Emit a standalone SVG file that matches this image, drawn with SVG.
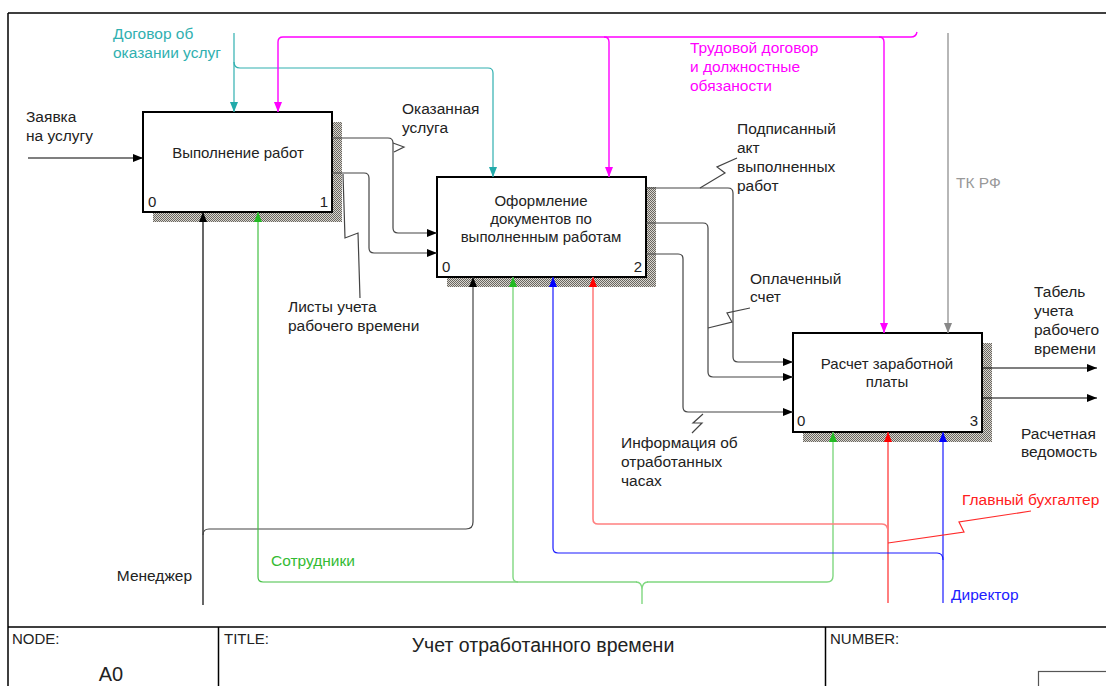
<svg xmlns="http://www.w3.org/2000/svg" width="1106" height="686" viewBox="0 0 1106 686">
<defs>
<pattern id="hatch" width="2" height="2" patternUnits="userSpaceOnUse">
<rect width="2" height="2" fill="#d8d6d0"/>
<rect width="1" height="1" fill="#6a6660"/>
<rect x="1" y="1" width="1" height="1" fill="#6a6660"/>
</pattern>
<marker id="aK" markerUnits="userSpaceOnUse" markerWidth="10" markerHeight="8" refX="10" refY="4" orient="auto"><path d="M0,0 L10,4 L0,8 z" fill="#000"/></marker>
<marker id="aT" markerUnits="userSpaceOnUse" markerWidth="10" markerHeight="8" refX="10" refY="4" orient="auto"><path d="M0,0 L10,4 L0,8 z" fill="#22aaaa"/></marker>
<marker id="aM" markerUnits="userSpaceOnUse" markerWidth="10" markerHeight="8" refX="10" refY="4" orient="auto"><path d="M0,0 L10,4 L0,8 z" fill="#ff00ff"/></marker>
<marker id="aG" markerUnits="userSpaceOnUse" markerWidth="10" markerHeight="8" refX="10" refY="4" orient="auto"><path d="M0,0 L10,4 L0,8 z" fill="#888"/></marker>
<marker id="aGr" markerUnits="userSpaceOnUse" markerWidth="10" markerHeight="8" refX="10" refY="4" orient="auto"><path d="M0,0 L10,4 L0,8 z" fill="#22bb22"/></marker>
<marker id="aR" markerUnits="userSpaceOnUse" markerWidth="10" markerHeight="8" refX="10" refY="4" orient="auto"><path d="M0,0 L10,4 L0,8 z" fill="#ff0000"/></marker>
<marker id="aB" markerUnits="userSpaceOnUse" markerWidth="10" markerHeight="8" refX="10" refY="4" orient="auto"><path d="M0,0 L10,4 L0,8 z" fill="#0000ff"/></marker>
</defs>
<style>
text{font-family:"Liberation Sans",Arial,sans-serif;font-size:15.5px;fill:#222}
.bt{font-size:15px}
.box{fill:#fff;stroke:#000;stroke-width:2}
.sh{fill:url(#hatch)}
.c{fill:none;stroke:#444;stroke-width:1.2}
.k{fill:none;stroke:#000;stroke-width:1.2}
.t{fill:none;stroke:#30b0b0;stroke-width:1.2}
.m{fill:none;stroke:#ff00ff;stroke-width:1.4}
.g{fill:none;stroke:#999;stroke-width:1.4}
.gr{fill:none;stroke:#44c044;stroke-width:1.2}
.grl{fill:none;stroke:#80d880;stroke-width:1.4}
.r{fill:none;stroke:#ff2a2a;stroke-width:1.2}
.rl{fill:none;stroke:#ff8080;stroke-width:1.6}
.b{fill:none;stroke:#1a1aff;stroke-width:1.2}
.ctr{text-anchor:middle}
.end{text-anchor:end}
.frame{fill:none;stroke:#000;stroke-width:1.5}
</style>

<g id="frame">
<path class="frame" d="M8,13 H1106 M8,13 V686 M8,627 H1106 M218.5,627 V686 M825.5,627 V686"/>
<rect x="1038.5" y="671.5" width="80" height="30" fill="none" stroke="#555" stroke-width="1.2"/>
<text x="12" y="644" class="bt">NODE:</text>
<text x="224" y="644" class="bt">TITLE:</text>
<text x="830" y="644" class="bt">NUMBER:</text>
<text x="111" y="681" class="ctr" style="font-size:20px">A0</text>
<text x="543" y="652" class="ctr" style="font-size:19.5px">Учет отработанного времени</text>
</g>

<g id="node1">
<rect class="sh" x="153" y="122" width="189" height="100"/>
<rect class="box" x="143" y="112" width="189" height="100"/>
<text x="238" y="158" class="ctr bt">Выполнение работ</text>
<text x="148" y="207" class="bt">0</text>
<text x="328" y="207" class="end bt">1</text>
</g>

<g id="node2">
<rect class="sh" x="447" y="187" width="209" height="100"/>
<rect class="box" x="437" y="177" width="209" height="100"/>
<text x="541" y="206" class="ctr bt">Оформление</text>
<text x="541" y="224" class="ctr bt">документов по</text>
<text x="541" y="242" class="ctr bt">выполненным работам</text>
<text x="442" y="272" class="bt">0</text>
<text x="642" y="272" class="end bt">2</text>
</g>

<g id="node3">
<rect class="sh" x="803" y="343" width="189" height="99"/>
<rect class="box" x="793" y="333" width="189" height="99"/>
<text x="887" y="369" class="ctr bt">Расчет заработной</text>
<text x="887" y="387" class="ctr bt">платы</text>
<text x="797" y="426" class="bt">0</text>
<text x="978" y="426" class="end bt">3</text>
</g>

<g id="connectors">
<path class="k" d="M28,158 H143" marker-end="url(#aK)"/>
<path class="t" d="M234,33 V112" marker-end="url(#aT)"/>
<path class="t" d="M234,62 q0,6 6,6 H488 q5,0 5,5 V177" marker-end="url(#aT)"/>
<path class="m" d="M917,32 q-1,5 -6,5 H283 q-5,0 -5,5 V112" marker-end="url(#aM)"/>
<path class="m" d="M604,37 q5,0 5,5 V177" marker-end="url(#aM)"/>
<path class="m" d="M879,37 q5,0 5,5 V333" marker-end="url(#aM)"/>
<path class="g" d="M948,33 V333" marker-end="url(#aG)"/>
<path class="c" d="M332,138 H388 q5,0 5,5 V228 q0,5 5,5 H437" marker-end="url(#aK)"/>
<path class="c" d="M332,173 H364 q5,0 5,5 V248 q0,5 5,5 H437" marker-end="url(#aK)"/>
<path class="c" d="M646,188 H728 q5,0 5,5 V357 q0,5 5,5 H793" marker-end="url(#aK)"/>
<path class="c" d="M646,223 H703 q5,0 5,5 V372 q0,5 5,5 H793" marker-end="url(#aK)"/>
<path class="c" d="M646,254 H678 q5,0 5,5 V407 q0,5 5,5 H793" marker-end="url(#aK)"/>
<path class="k" d="M982,368 H1097" marker-end="url(#aK)"/>
<path class="k" d="M982,398 H1097" marker-end="url(#aK)"/>
<path class="k" d="M203,605 V212" marker-end="url(#aK)"/>
<path class="c" d="M203,535 q0,-6 6,-6 H466 q7,0 7,-7 V277" marker-end="url(#aK)"/>
<path class="gr" d="M637,582 H263 q-5,0 -5,-5 V212" marker-end="url(#aGr)"/>
<path class="grl" d="M647,582 H827 q6,0 6,-6 V432" marker-end="url(#aGr)"/>
<path class="grl" d="M518,582 q-5,0 -5,-5 V277" marker-end="url(#aGr)"/>
<path class="grl" d="M642,604 V590 q0,-8 -6,-8 M642,590 q0,-8 6,-8"/>
<path class="r" d="M888,603 V432" marker-end="url(#aR)"/>
<path class="rl" d="M888,532 q0,-8 -6,-8 H598 q-5,0 -5,-5 V277" marker-end="url(#aR)"/>
<path class="b" d="M943,603 V432" marker-end="url(#aB)"/>
<path class="b" d="M943,560 q0,-7 -6,-7 H558 q-5,0 -5,-5 V277" marker-end="url(#aB)"/>
<path class="c" d="M393,143 L404,147 L394,152"/>
<path class="c" d="M343,174 L345,238 L358,233 L360,298"/>
<path class="c" d="M700,188 L725,173 L717,167 L737,158"/>
<path class="c" d="M708,328 L732,322 L727,313 L750,308"/>
<path class="c" d="M703,414 L693,423 L702,423 L692,433"/>
<path class="r" d="M888,543 L964,532 L959,522 L1031,511"/>
</g>

<g id="labels">
<text x="26" y="122">Заявка</text>
<text x="26" y="141">на услугу</text>
<text x="113" y="39" style="fill:#30b0b0">Договор об</text>
<text x="113" y="58" style="fill:#30b0b0">оказании услуг</text>
<text x="690" y="53" style="fill:#ff00ff">Трудовой договор</text>
<text x="690" y="72" style="fill:#ff00ff">и должностные</text>
<text x="690" y="91" style="fill:#ff00ff">обязаности</text>
<text x="402" y="114">Оказанная</text>
<text x="402" y="133">услуга</text>
<text x="737" y="134">Подписанный</text>
<text x="737" y="153">акт</text>
<text x="737" y="172">выполненных</text>
<text x="737" y="191">работ</text>
<text x="956" y="188" style="fill:#999">ТК РФ</text>
<text x="288" y="312">Листы учета</text>
<text x="288" y="331">рабочего времени</text>
<text x="750" y="284">Оплаченный</text>
<text x="750" y="302">счет</text>
<text x="1034" y="297">Табель</text>
<text x="1034" y="316">учета</text>
<text x="1034" y="335">рабочего</text>
<text x="1034" y="354">времени</text>
<text x="621" y="448">Информация об</text>
<text x="621" y="467">отработанных</text>
<text x="621" y="486">часах</text>
<text x="1021" y="439">Расчетная</text>
<text x="1021" y="457">ведомость</text>
<text x="962" y="505" style="fill:#ff2020">Главный бухгалтер</text>
<text x="192" y="581" class="end">Менеджер</text>
<text x="271" y="566" style="fill:#33bb33">Сотрудники</text>
<text x="951" y="600" style="fill:#2020ff">Директор</text>
</g>
</svg>
